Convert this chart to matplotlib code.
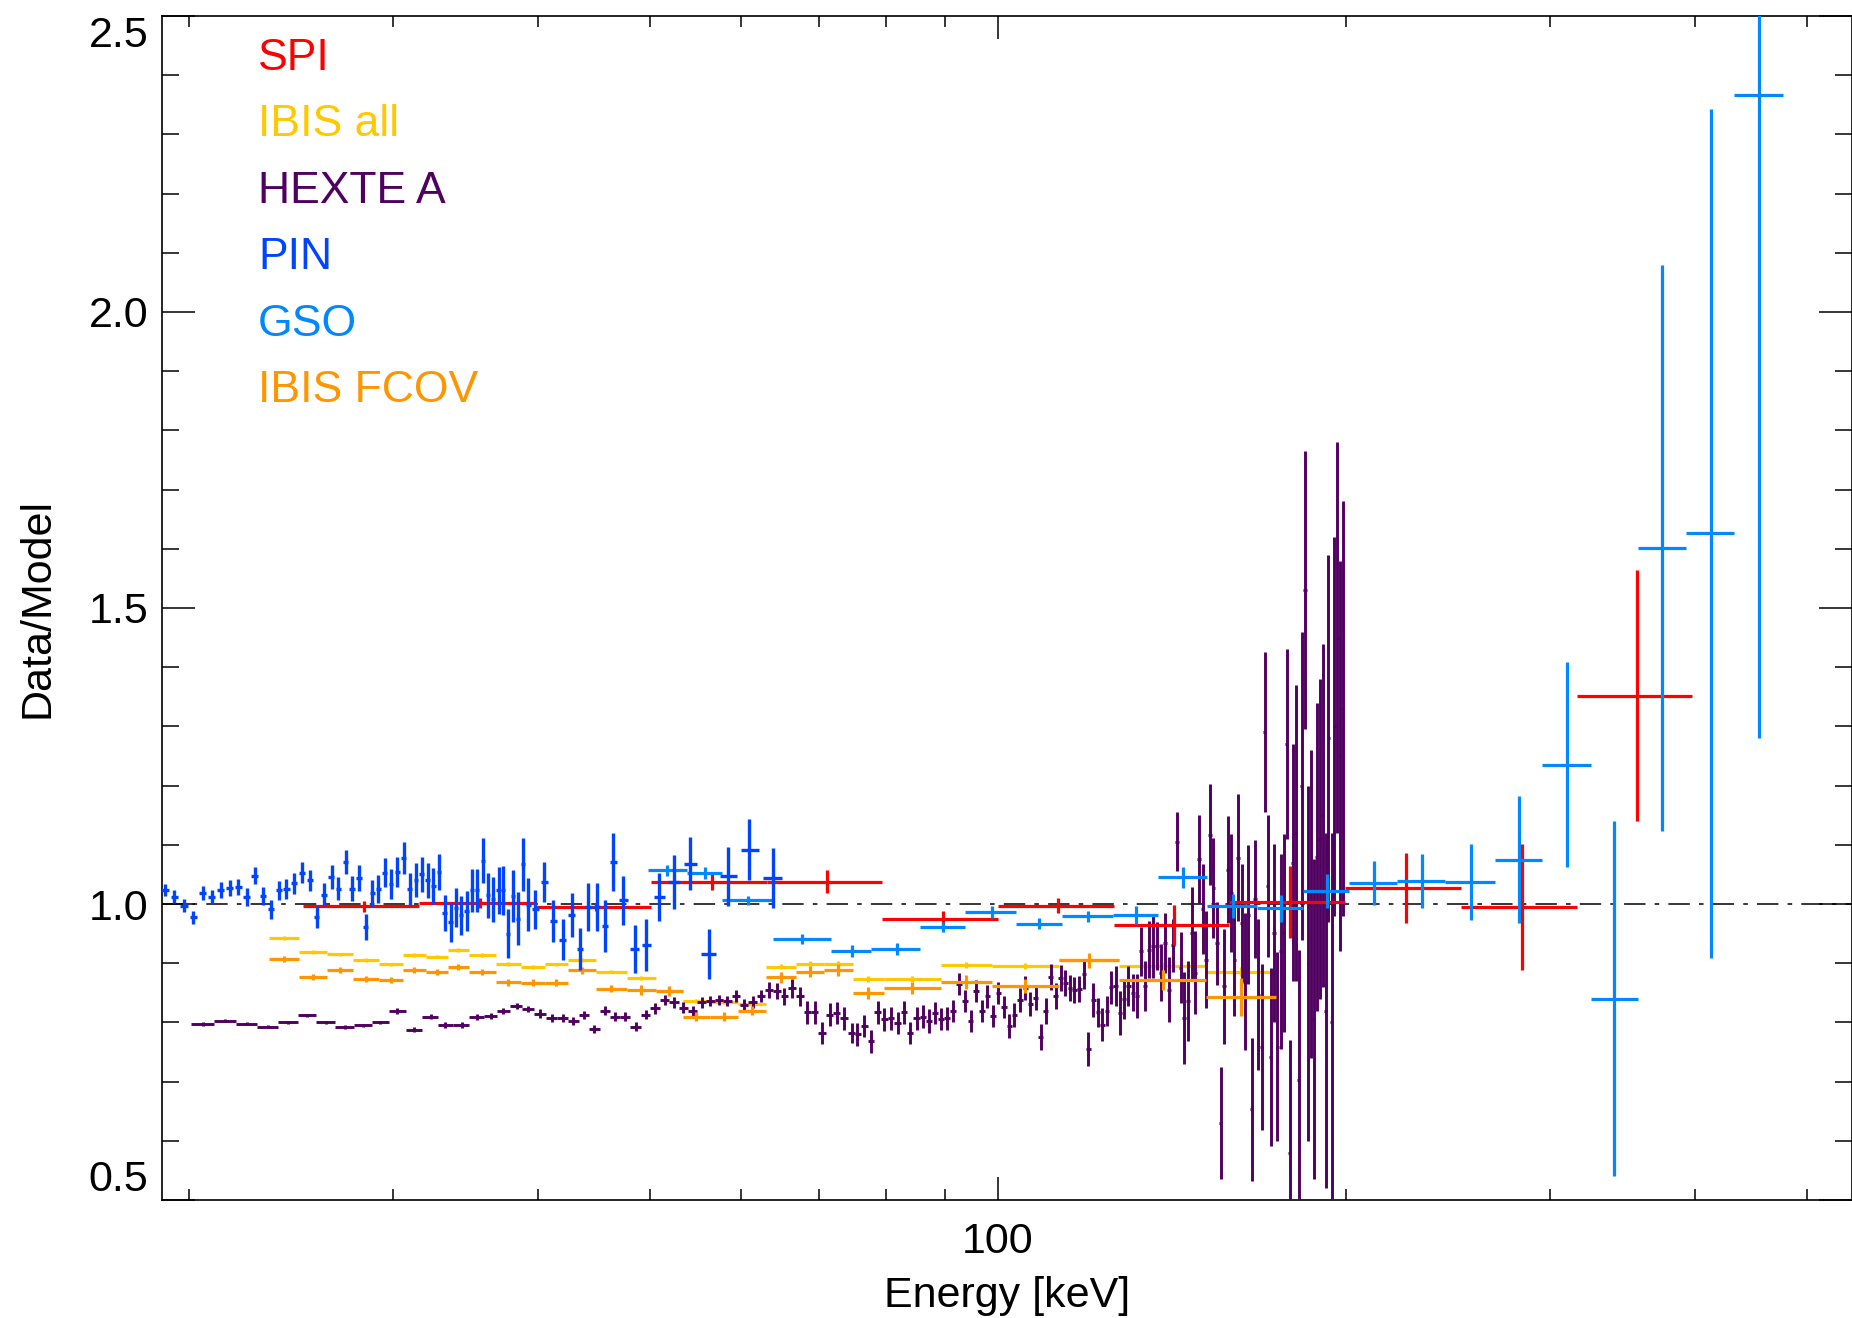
import numpy as np
import matplotlib
matplotlib.use("Agg")
import matplotlib.pyplot as plt
from matplotlib.ticker import MultipleLocator, NullFormatter

plt.rcParams['font.family'] = ['Liberation Sans', 'DejaVu Sans']
plt.rcParams['font.size'] = 31

# ---- SPI (red) : wide bins
spi_edges = [25.1, 31.6, 39.8, 50.1, 63.1, 79.4, 100.0, 125.9, 158.5, 199.5, 251.2, 316.2, 398.1]
spi_e = [28.3, 35.7, 44.9, 56.6, 71.2, 89.7, 112.7, 141.9, 178.8, 225.3, 283.8, 356.7]
spi_v = [0.996, 1.002, 0.995, 1.038, 1.038, 0.974, 0.997, 0.965, 1.003, 1.027, 0.995, 1.352]
spi_err = [0.009, 0.008, 0.006, 0.015, 0.019, 0.014, 0.013, 0.034, 0.061, 0.059, 0.107, 0.212]

# ---- IBIS all / IBIS FCOV share the same bins
ibis_edges = [23.44, 24.88, 26.30, 27.70, 29.17, 30.60, 32.04, 33.47, 34.89, 36.83,
              38.70, 40.60, 42.49, 44.94, 47.78, 50.63, 53.42, 56.37, 59.61, 63.03,
              66.91, 70.74, 74.93, 79.70, 89.27, 98.80, 112.9, 127.2, 151.3, 173.9]
ibis_all_v = [0.943, 0.919, 0.915, 0.905, 0.898, 0.914, 0.911, 0.922, 0.914, 0.899,
              0.894, 0.898, 0.905, 0.886, 0.875, 0.853, 0.836, 0.835, 0.831, 0.894,
              0.899, 0.899, 0.873, 0.873, 0.897, 0.895, 0.906, 0.896, 0.886]
ibis_all_err = [0.003, 0.003, 0.003, 0.003, 0.003, 0.003, 0.003, 0.003, 0.003, 0.003,
                0.003, 0.003, 0.003, 0.003, 0.004, 0.004, 0.004, 0.004, 0.004, 0.004,
                0.004, 0.004, 0.005, 0.005, 0.005, 0.005, 0.005, 0.006, 0.008]
fcov_v = [0.907, 0.877, 0.889, 0.873, 0.872, 0.888, 0.885, 0.893, 0.885, 0.868,
          0.867, 0.867, 0.888, 0.857, 0.855, 0.853, 0.810, 0.810, 0.820, 0.876,
          0.886, 0.888, 0.850, 0.858, 0.868, 0.861, 0.905, 0.872, 0.843]
fcov_err = [0.005, 0.005, 0.005, 0.005, 0.005, 0.005, 0.005, 0.005, 0.005, 0.006,
            0.006, 0.006, 0.006, 0.006, 0.008, 0.008, 0.008, 0.008, 0.008, 0.010,
            0.010, 0.010, 0.010, 0.010, 0.012, 0.012, 0.013, 0.017, 0.032]

# ---- GSO (light blue)
gso_edges = [49.8, 53.9, 57.7, 63.9, 71.7, 77.7, 85.6, 93.6, 103.7, 113.6, 125.7, 137.5,
             151.6, 167.4, 183.4, 201.1, 221.2, 243.4, 268.9, 295.3, 325.5, 357.4,
             393.1, 432.6, 476.9]
gso_e = [51.8, 55.8, 60.8, 67.7, 74.8, 81.8, 89.7, 98.8, 108.5, 119.6, 131.6, 144.5,
         159.6, 175.6, 192.5, 211.3, 232.5, 256.4, 282.0, 310.3, 340.8, 374.9, 413.3, 454.8]
gso_v = [1.057, 1.053, 1.006, 0.941, 0.921, 0.924, 0.961, 0.987, 0.967, 0.979, 0.982, 1.045,
         0.997, 0.993, 1.022, 1.036, 1.039, 1.037, 1.075, 1.235, 0.840, 1.602, 1.626, 2.366]
gso_err = [0.009, 0.010, 0.008, 0.009, 0.010, 0.010, 0.009, 0.010, 0.010, 0.010, 0.015, 0.018,
           0.020, 0.023, 0.028, 0.037, 0.046, 0.064, 0.107, 0.173, 0.300, 0.478, 0.717, 1.086]

# ---- PIN (blue)
pin_e = [19.06, 19.42, 19.80, 20.16, 20.54, 20.91, 21.29, 21.69, 22.05, 22.42,
         22.79, 23.17, 23.53, 23.92, 24.27, 24.66, 25.04, 25.43, 25.77, 26.15,
         26.55, 26.91, 27.30, 27.63, 28.04, 28.41, 28.79, 29.14, 29.53, 29.88,
         30.26, 30.64, 31.03, 31.41, 31.76, 32.14, 32.51, 32.88, 33.25, 33.65,
         33.98, 34.37, 34.73, 35.10, 35.48, 35.88, 36.26, 36.62, 37.02, 37.36,
         37.74, 38.11, 38.50, 38.88, 39.27, 39.81, 40.55, 41.28, 42.05, 42.81,
         43.53, 44.26, 45.00, 45.75, 46.51, 47.45, 48.56, 49.63,
         50.96, 52.47, 54.17, 56.22, 58.47, 60.94, 63.87]
pin_v = [1.023, 1.012, 0.997, 0.978, 1.018, 1.012, 1.023, 1.027, 1.028, 1.012,
         1.048, 1.013, 0.991, 1.023, 1.026, 1.035, 1.053, 1.040, 0.978, 1.016,
         1.046, 1.026, 1.071, 1.026, 1.044, 0.961, 1.018, 1.025, 1.053, 1.034,
         1.054, 1.078, 1.025, 1.041, 1.050, 1.040, 1.030, 1.054, 0.985, 0.969,
         0.994, 0.981, 0.988, 1.023, 1.023, 1.073, 1.015, 1.008, 1.023, 1.023,
         0.950, 1.013, 0.975, 1.067, 0.999, 0.991, 1.037, 0.971, 0.940, 0.981,
         0.924, 0.995, 0.995, 0.963, 1.071, 1.006, 0.924, 0.931,
         1.012, 1.037, 1.068, 0.916, 1.047, 1.092, 1.044]
pin_err = [0.010, 0.011, 0.011, 0.011, 0.012, 0.012, 0.0135, 0.0135, 0.0135, 0.015,
           0.015, 0.015, 0.016, 0.016, 0.017, 0.018, 0.018, 0.018, 0.018, 0.020,
           0.020, 0.020, 0.021, 0.021, 0.022, 0.022, 0.023, 0.024, 0.024, 0.025,
           0.026, 0.027, 0.027, 0.029, 0.029, 0.030, 0.030, 0.031, 0.031, 0.033,
           0.033, 0.033, 0.034, 0.036, 0.036, 0.038, 0.038, 0.038, 0.040, 0.041,
           0.041, 0.044, 0.045, 0.045, 0.045, 0.033, 0.034, 0.035, 0.035, 0.037,
           0.035, 0.041, 0.041, 0.044, 0.049, 0.041, 0.041, 0.044,
           0.041, 0.045, 0.045, 0.042, 0.050, 0.052, 0.051]

# ---- HEXTE A (purple)
hexte_e = [20.54, 21.48, 22.42, 23.38, 24.36, 25.30, 26.24, 27.27, 28.28, 29.23,
           30.26, 31.30, 32.34, 33.25, 34.42, 35.44, 36.44, 37.37, 38.37, 39.27,
           40.20, 41.14, 42.05, 42.95, 43.87, 44.79, 45.75, 46.67, 47.61, 48.63,
           49.60, 50.53, 51.55, 52.48, 53.47, 54.47, 55.45, 56.38, 57.40, 58.36,
           59.37, 60.33, 61.38, 62.36, 63.41, 64.38, 65.37, 66.42, 67.45, 68.43,
           69.49, 70.42, 71.60, 72.55, 73.62, 74.75, 75.60, 76.66, 77.68, 78.72,
           79.77, 80.84, 81.92, 82.96, 83.95, 85.07, 86.10, 87.19, 88.23, 89.29,
           90.43, 91.51, 92.55, 93.66, 94.72, 95.73, 96.82, 97.92, 98.96, 100.09,
           101.22, 102.30, 103.33, 104.50, 105.54, 106.60, 107.81, 108.89, 109.97, 111.07,
           112.19, 113.31, 114.29, 115.43, 116.43, 117.60, 118.77, 119.72, 120.92, 122.13,
           123.11, 124.17, 125.25, 126.42, 127.51, 128.53, 129.64, 130.77, 131.81, 132.86,
           134.01, 135.09, 136.07, 137.16, 138.35, 139.46, 140.57, 141.60, 142.73, 143.87,
           144.83, 145.88, 147.05, 148.13, 149.32, 150.31, 151.31, 152.52, 153.53, 154.56,
           155.79, 156.83, 157.98, 159.03, 160.08, 161.26, 162.44, 163.52, 164.60, 165.70,
           166.80, 167.91, 169.03, 170.15, 171.06, 172.09, 173.23, 174.39, 175.54, 176.71,
           177.65, 178.84, 179.79, 180.87, 182.07, 183.04, 184.25, 185.35, 186.33, 187.57,
           188.57, 189.83, 190.83, 192.10, 193.00, 194.28, 195.19, 196.49, 197.53, 198.58]
hexte_v = [0.797, 0.803, 0.798, 0.793, 0.800, 0.812, 0.800, 0.792, 0.795, 0.800,
           0.819, 0.788, 0.810, 0.795, 0.796, 0.809, 0.811, 0.819, 0.828, 0.822,
           0.815, 0.807, 0.807, 0.803, 0.812, 0.789, 0.820, 0.810, 0.810, 0.793,
           0.813, 0.824, 0.838, 0.834, 0.825, 0.819, 0.834, 0.836, 0.838, 0.836,
           0.844, 0.830, 0.834, 0.844, 0.855, 0.853, 0.844, 0.858, 0.844, 0.817,
           0.817, 0.782, 0.813, 0.816, 0.807, 0.782, 0.780, 0.794, 0.768, 0.817,
           0.805, 0.807, 0.799, 0.817, 0.782, 0.807, 0.810, 0.802, 0.816, 0.806,
           0.807, 0.819, 0.865, 0.836, 0.802, 0.853, 0.819, 0.844, 0.811, 0.850,
           0.826, 0.794, 0.813, 0.838, 0.858, 0.831, 0.841, 0.776, 0.819, 0.877,
           0.844, 0.875, 0.867, 0.858, 0.855, 0.856, 0.881, 0.755, 0.838, 0.817,
           0.796, 0.819, 0.859, 0.861, 0.816, 0.840, 0.862, 0.850, 0.844, 0.920,
           0.861, 0.923, 0.929, 0.929, 0.884, 0.934, 0.855, 0.930, 1.105, 0.892,
           0.807, 0.836, 0.951, 0.884, 1.076, 0.991, 0.906, 1.117, 1.027, 0.934,
           0.630, 0.861, 1.058, 1.019, 0.906, 1.078, 0.968, 0.869, 0.982, 0.653,
           1.008, 0.847, 0.759, 1.290, 1.030, 0.742, 0.951, 0.759, 0.920, 0.951,
           1.270, 0.580, 1.070, 1.120, 0.703, 1.200, 1.530, 0.900, 1.000, 0.806,
           1.080, 1.110, 1.150, 0.820, 1.280, 0.800, 1.300, 1.450, 1.250, 1.330]
hexte_err = [0.003, 0.003, 0.003, 0.003, 0.003, 0.003, 0.003, 0.003, 0.003, 0.003,
             0.005, 0.005, 0.005, 0.005, 0.005, 0.005, 0.005, 0.005, 0.005, 0.005,
             0.007, 0.007, 0.007, 0.007, 0.007, 0.007, 0.008, 0.008, 0.008, 0.008,
             0.008, 0.009, 0.009, 0.009, 0.009, 0.009, 0.009, 0.009, 0.009, 0.009,
             0.010, 0.010, 0.010, 0.010, 0.014, 0.014, 0.014, 0.016, 0.016, 0.019,
             0.019, 0.019, 0.019, 0.019, 0.019, 0.017, 0.019, 0.019, 0.019, 0.019,
             0.019, 0.019, 0.019, 0.019, 0.019, 0.019, 0.019, 0.020, 0.019, 0.019,
             0.019, 0.019, 0.019, 0.019, 0.019, 0.019, 0.019, 0.019, 0.019, 0.019,
             0.019, 0.020, 0.020, 0.020, 0.020, 0.020, 0.020, 0.022, 0.022, 0.022,
             0.022, 0.022, 0.022, 0.022, 0.022, 0.022, 0.025, 0.028, 0.028, 0.025,
             0.028, 0.025, 0.028, 0.034, 0.037, 0.034, 0.034, 0.031, 0.037, 0.042,
             0.042, 0.048, 0.054, 0.040, 0.048, 0.050, 0.055, 0.045, 0.050, 0.060,
             0.078, 0.068, 0.078, 0.070, 0.075, 0.076, 0.082, 0.085, 0.085, 0.070,
             0.095, 0.097, 0.090, 0.100, 0.095, 0.107, 0.100, 0.115, 0.117, 0.120,
             0.100, 0.127, 0.140, 0.135, 0.120, 0.150, 0.150, 0.160, 0.165, 0.168,
             0.160, 0.190, 0.200, 0.250, 0.220, 0.260, 0.235, 0.300, 0.260, 0.270,
             0.260, 0.270, 0.290, 0.300, 0.310, 0.320, 0.320, 0.330, 0.330, 0.350]

C_SPI = '#FF0000'
C_IBIS = '#FFC800'
C_HEXTE = '#500060'
C_PIN = '#0044FF'
C_GSO = '#0088FF'
C_FCOV = '#FF9600'


def bin_xerr(edges, centers):
    edges = np.asarray(edges)
    c = np.asarray(centers)
    return [c - edges[:-1], edges[1:] - c]


def contiguous_xerr(centers):
    c = np.log10(np.asarray(centers))
    mid = (c[1:] + c[:-1]) / 2
    lo = np.concatenate([[c[0] - (mid[0] - c[0])], mid])
    hi = np.concatenate([mid, [c[-1] + (c[-1] - mid[-1])]])
    cc = 10 ** c
    return [cc - 10 ** lo, 10 ** hi - cc]


fig = plt.figure(figsize=(18.52, 13.18), dpi=100)
ax = fig.add_axes([0.0875, 0.0895, 0.9125, 0.8984])

ax.axhline(1.0, color='black', lw=1.1, ls=(0, (14, 6, 3, 6)), zorder=1)

lw = 2.3
ibis_c = np.sqrt(np.array(ibis_edges[:-1]) * np.array(ibis_edges[1:]))
ax.errorbar(ibis_c, ibis_all_v, xerr=bin_xerr(ibis_edges, ibis_c), yerr=ibis_all_err,
            fmt='none', ecolor=C_IBIS, elinewidth=lw, capsize=0, zorder=2)
ax.errorbar(hexte_e, hexte_v, xerr=contiguous_xerr(hexte_e), yerr=hexte_err,
            fmt='none', ecolor=C_HEXTE, elinewidth=2.1, capsize=0, zorder=3)
ax.errorbar(ibis_c, fcov_v, xerr=bin_xerr(ibis_edges, ibis_c), yerr=fcov_err,
            fmt='none', ecolor=C_FCOV, elinewidth=lw, capsize=0, zorder=4)
ax.errorbar(spi_e, spi_v, xerr=bin_xerr(spi_edges, spi_e), yerr=spi_err,
            fmt='none', ecolor=C_SPI, elinewidth=lw, capsize=0, zorder=5)
ax.errorbar(gso_e, gso_v, xerr=bin_xerr(gso_edges, gso_e), yerr=gso_err,
            fmt='none', ecolor=C_GSO, elinewidth=lw, capsize=0, zorder=6)
pin_xe = contiguous_xerr(pin_e)
ax.errorbar(pin_e, pin_v, xerr=[pin_xe[0] * 0.8, pin_xe[1] * 0.8], yerr=pin_err,
            fmt='none', ecolor=C_PIN, elinewidth=2.4, capsize=0, zorder=7)

ax.set_xscale('log')
ax.set_xlim(18.95, 547)
ax.set_ylim(0.5, 2.5)

ax.set_xticks([100])
ax.set_xticklabels(['100'])
ax.set_xticks([20, 30, 40, 50, 60, 70, 80, 90, 200, 300, 400, 500], minor=True)
ax.xaxis.set_minor_formatter(NullFormatter())
ax.set_yticks([0.5, 1.0, 1.5, 2.0, 2.5])
ax.set_yticklabels(['0.5', '1.0', '1.5', '2.0', '2.5'])
ax.yaxis.set_minor_locator(MultipleLocator(0.1))

ax.tick_params(which='both', direction='in', top=True, right=True, width=1.1, colors='black')
ax.tick_params(axis='y', which='major', length=24, pad=10)
ax.tick_params(axis='y', which='minor', length=12)
ax.tick_params(axis='x', which='major', length=16.5, pad=16)
ax.tick_params(axis='x', which='minor', length=8)
for s in ax.spines.values():
    s.set_linewidth(1.2)

# keep the end labels inside the frame, as in the original
ylabels = ax.get_yticklabels()
ylabels[0].set_va('bottom')
ylabels[-1].set_va('top')

ax.set_xlabel('Energy [keV]', labelpad=10)
ax.set_ylabel('Data/Model', labelpad=22)

labels = ['SPI', 'IBIS all', 'HEXTE A', 'PIN', 'GSO', 'IBIS FCOV']
colors = [C_SPI, C_IBIS, C_HEXTE, C_PIN, C_GSO, C_FCOV]
for i, (t, c) in enumerate(zip(labels, colors)):
    ax.text(0.0568, 0.9544 - i * 0.0561, t, color=c, fontsize=32,
            transform=ax.transAxes, va='baseline', ha='left')

fig.savefig('out.png', dpi=100)
